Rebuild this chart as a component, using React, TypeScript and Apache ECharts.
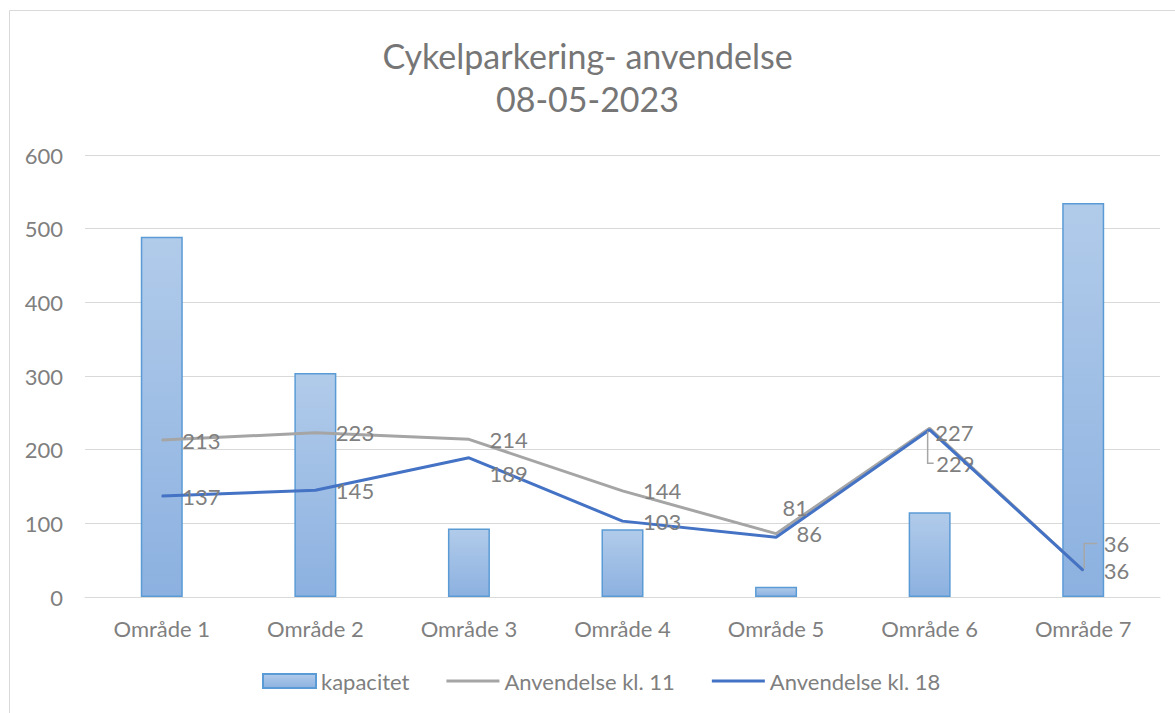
import React, { useEffect, useRef } from "react";
import * as echarts from "echarts";

const categories = ["Område 1", "Område 2", "Område 3", "Område 4", "Område 5", "Område 6", "Område 7"];
const kapacitet = [489, 304, 93, 92, 14, 115, 535];
const kl11 = [213, 223, 214, 144, 86, 229, 36];
const kl18 = [137, 145, 189, 103, 81, 227, 36];
const yTicks = { min: 0, max: 600, interval: 100 };

const FONT = "Lato, 'Noto Sans', sans-serif";
const TXT = "#7f7f7f";
const LINE_ICON = "path://M0,0H53V3H0Z";

export default function App() {
  const ref = useRef<HTMLDivElement>(null);
  useEffect(() => {
    const chart = echarts.init(ref.current!, null, { renderer: "svg" });
    const labelBase = { show: true, position: "right", distance: 20, color: TXT, fontSize: 22, fontFamily: FONT };
    const grayOffsets: Record<number, number[]> = { 5: [-14, 35], 6: [0, -27] };
    const blueOffsets: Record<number, number[]> = { 2: [0, 16], 4: [-14, -30], 5: [-15, 3] };
    const mk = (vals: number[], offs: Record<number, number[]>) =>
      vals.map((v, i) => (offs[i] ? { value: v, label: { offset: offs[i] } } : v));
    const option: any = {
      animation: false,
      textStyle: { fontFamily: FONT },
      title: {
        text: "Cykelparkering- anvendelse\n08-05-2023",
        left: "center",
        top: 29,
        textStyle: { fontSize: 34, fontWeight: "normal", color: "#767676", fontFamily: FONT, lineHeight: 43 },
      },
      grid: { left: 85, right: 15, top: 155, bottom: 116, containLabel: false },
      legend: {
        bottom: 16,
        left: 257,
        itemWidth: 53,
        itemHeight: 14,
        itemGap: 37,
        textStyle: { color: TXT, fontSize: 22, fontFamily: FONT },
        data: [
          { name: "kapacitet", icon: "rect" },
          { name: "Anvendelse kl. 11", icon: LINE_ICON },
          { name: "Anvendelse kl. 18", icon: LINE_ICON },
        ],
      },
      xAxis: {
        type: "category",
        data: categories,
        axisLine: { show: true, lineStyle: { color: "#d9d9d9", width: 1 } },
        axisTick: { show: false },
        axisLabel: { color: TXT, fontSize: 22, fontFamily: FONT, margin: 20 },
      },
      yAxis: {
        type: "value",
        ...yTicks,
        axisLine: { show: false },
        axisTick: { show: false },
        axisLabel: { color: TXT, fontSize: 22, fontFamily: FONT, margin: 22 },
        splitLine: { lineStyle: { color: "#d9d9d9", width: 1 } },
      },
      series: [
        {
          name: "kapacitet",
          type: "bar",
          data: kapacitet,
          barWidth: 42,
          itemStyle: {
            color: new echarts.graphic.LinearGradient(0, 0, 0, 1, [
              { offset: 0, color: "#b1cbea" },
              { offset: 1, color: "#8cb1e0" },
            ]),
            borderColor: "#5b9bd5",
            borderWidth: 1.5,
          },
        },
        {
          name: "Anvendelse kl. 11",
          type: "line",
          data: mk(kl11, grayOffsets),
          showSymbol: true,
          showAllSymbol: true,
          symbol: "circle",
          symbolSize: 1,
          lineStyle: { color: "#a5a5a5", width: 3 },
          itemStyle: { color: "#a5a5a5" },
          label: labelBase,
          z: 3,
        },
        {
          name: "Anvendelse kl. 18",
          type: "line",
          data: mk(kl18, blueOffsets),
          showSymbol: true,
          showAllSymbol: true,
          symbol: "circle",
          symbolSize: 1,
          lineStyle: { color: "#4472c4", width: 3 },
          itemStyle: { color: "#4472c4" },
          label: labelBase,
          z: 4,
        },
      ],
    };
    chart.setOption(option);
    // leader lines for moved gray labels, computed from data via the axes
    const p5 = chart.convertToPixel({ seriesIndex: 1 }, [5, kl11[5]]) as number[];
    const p6 = chart.convertToPixel({ seriesIndex: 1 }, [6, kl11[6]]) as number[];
    chart.setOption({
      graphic: [
        {
          type: "rect",
          shape: { x: 9.5, y: 10.5, width: 1200, height: 800 },
          style: { fill: "none", stroke: "#d9d9d9", lineWidth: 1 },
          silent: true,
          z: -1,
        },
        {
          type: "polyline",
          z: 10,
          shape: { points: [[p5[0] - 2, p5[1] + 3], [p5[0] - 2, p5[1] + 35], [p5[0] + 4, p5[1] + 35]] },
          style: { stroke: "#a6a6a6", lineWidth: 1.5, fill: "none" },
        },
        {
          type: "polyline",
          z: 10,
          shape: { points: [[p6[0] + 1, p6[1] - 2], [p6[0] + 1, p6[1] - 27], [p6[0] + 14, p6[1] - 27]] },
          style: { stroke: "#a6a6a6", lineWidth: 1.5, fill: "none" },
        },
      ],
    });
    return () => chart.dispose();
  }, []);
  return <div ref={ref} style={{ position: "absolute", left: 0, top: 0, width: 1175, height: 713, background: "#fff" }} />;
}
